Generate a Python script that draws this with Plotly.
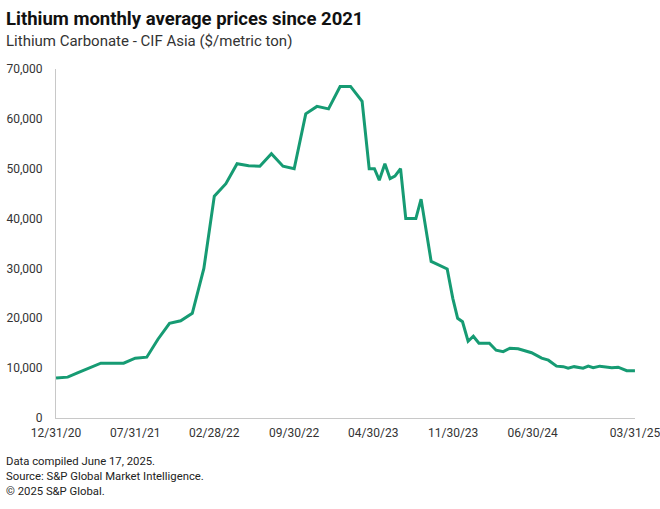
import plotly.graph_objects as go

# ---- data ----
dates = [
    "2020-12-31", "2021-01-31", "2021-02-28", "2021-03-31", "2021-04-30", "2021-05-31",
    "2021-06-30", "2021-07-31", "2021-08-31", "2021-09-30", "2021-10-31", "2021-11-30",
    "2021-12-31", "2022-01-31", "2022-02-28", "2022-03-31", "2022-04-30", "2022-05-31",
    "2022-06-30", "2022-07-31", "2022-08-31", "2022-09-30", "2022-10-31", "2022-11-30",
    "2022-12-31", "2023-01-31", "2023-02-28", "2023-03-31", "2023-04-19", "2023-05-03",
    "2023-05-16", "2023-05-31", "2023-06-14", "2023-06-27", "2023-07-12", "2023-07-26",
    "2023-08-22", "2023-09-05", "2023-10-02", "2023-11-14", "2023-11-29", "2023-12-12",
    "2023-12-25", "2024-01-09", "2024-01-23", "2024-02-07", "2024-03-06", "2024-03-24",
    "2024-04-12", "2024-04-30", "2024-05-22", "2024-06-27", "2024-07-24", "2024-08-11",
    "2024-09-02", "2024-09-20", "2024-10-03", "2024-10-19", "2024-11-12", "2024-11-26",
    "2024-12-09", "2024-12-27", "2025-01-10", "2025-01-28", "2025-02-14", "2025-03-09",
    "2025-03-31",
]
prices = [
    8000, 8200, 9100, 10100, 11000, 11000,
    11000, 12000, 12200, 15800, 19000, 19500,
    21000, 30000, 44500, 47000, 51000, 50600,
    50500, 53000, 50500, 50000, 61000, 62500,
    62000, 66500, 66500, 63500, 50000, 50000,
    47700, 51000, 48000, 48500, 50000, 40000,
    40000, 43900, 31400, 29900, 24000, 20000,
    19300, 15400, 16400, 15000, 15000, 13600,
    13300, 14000, 13900, 13100, 12000, 11600,
    10400, 10300, 10000, 10300, 10000, 10400,
    10100, 10400, 10300, 10100, 10200, 9500,
    9500,
]
tick_dates = ["2020-12-31", "2021-07-31", "2022-02-28", "2022-09-30",
              "2023-04-30", "2023-11-30", "2024-06-30", "2025-03-31"]
tick_labels = ["12/31/20", "07/31/21", "02/28/22", "09/30/22",
               "04/30/23", "11/30/23", "06/30/24", "03/31/25"]
y_ticks = [0, 10000, 20000, 30000, 40000, 50000, 60000, 70000]

title = "Lithium monthly average prices since 2021"
subtitle = "Lithium Carbonate - CIF Asia ($/metric ton)"
footer = ["Data compiled June 17, 2025.",
          "Source: S&P Global Market Intelligence.",
          "\u00a9 2025 S&P Global."]

# ---- figure ----
W, H = 660, 509
L, R, T, B = 56, 25, 69, 91
pw, ph = W - L - R, H - T - B

def px(x):
    return (x - L) / pw

def py(y):
    return (H - B - y) / ph

FONT = "Roboto, 'Noto Sans', sans-serif"
GREEN = "#169b73"
AXIS = "#c8c8c8"
TXT = "#333333"

fig = go.Figure()
fig.add_trace(go.Scatter(
    x=dates, y=prices, mode="lines",
    line=dict(color=GREEN, width=3),
    hoverinfo="x+y", showlegend=False,
))

fig.update_layout(
    width=W, height=H,
    margin=dict(l=L, r=R, t=T, b=B),
    paper_bgcolor="white", plot_bgcolor="white",
    font=dict(family=FONT, color=TXT, size=12),
    xaxis=dict(
        type="date",
        range=["2020-12-30 20:00", "2025-03-31 04:00"],
        tickmode="array", tickvals=tick_dates, ticktext=tick_labels,
        showgrid=False, zeroline=False, automargin=False,
        ticklabeloverflow="allow",
        showline=True, linecolor=AXIS, linewidth=1,
        ticks="outside", ticklen=4, tickcolor="rgba(0,0,0,0)",
        tickfont=dict(size=12, color=TXT),
    ),
    yaxis=dict(
        range=[0, 70000],
        tickmode="array", tickvals=y_ticks,
        tickformat=",",
        showgrid=False, zeroline=False, automargin=False,
        showline=True, linecolor=AXIS, linewidth=1,
        ticks="outside", ticklen=10, tickcolor="rgba(0,0,0,0)",
        tickfont=dict(size=12, color=TXT),
    ),
)

fig.add_annotation(text="<b>" + title + "</b>", xref="paper", yref="paper",
                   x=px(4), y=py(19), xanchor="left", yanchor="middle",
                   showarrow=False, font=dict(size=18.5, color="#111111", family=FONT))
fig.add_annotation(text=subtitle, xref="paper", yref="paper",
                   x=px(4), y=py(41), xanchor="left", yanchor="middle",
                   showarrow=False, font=dict(size=15, color=TXT, family=FONT))
for i, line in enumerate(footer):
    fig.add_annotation(text=line, xref="paper", yref="paper",
                       x=px(4), y=py(461.5 + 15 * i), xanchor="left", yanchor="middle",
                       showarrow=False, font=dict(size=11.3, color="#222222", family=FONT))

fig.write_html("out.html",
               config={"displayModeBar": False},
               post_script="document.body.style.margin='0';document.body.style.overflow='hidden';")
